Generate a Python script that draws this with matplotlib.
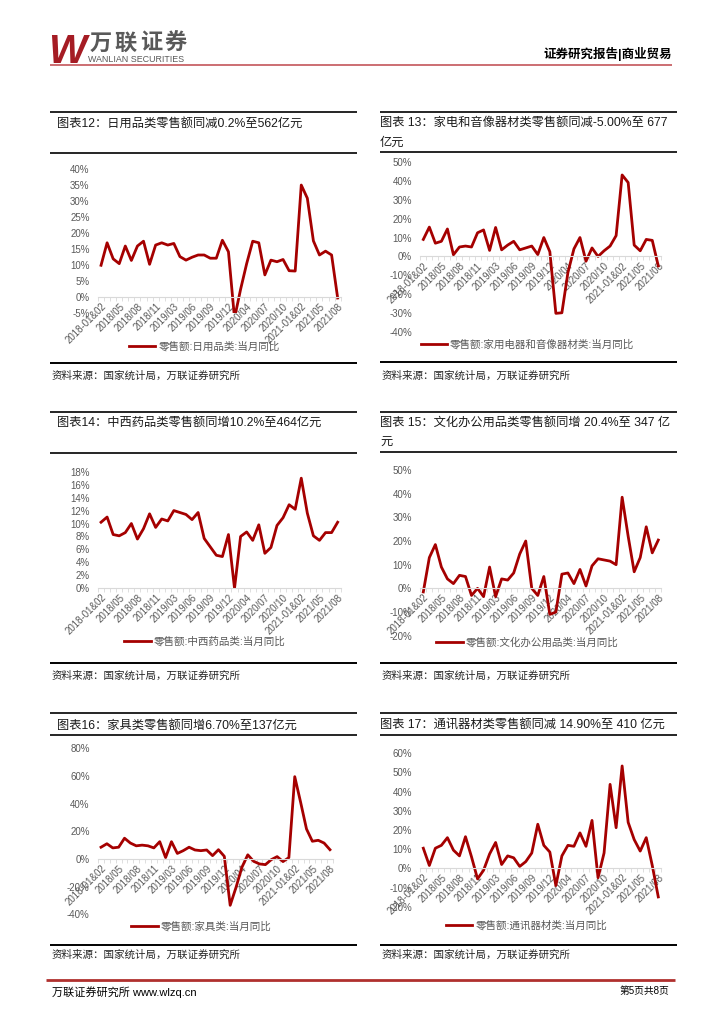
import matplotlib
matplotlib.use("Agg")
import matplotlib.pyplot as plt
import numpy as np
from matplotlib.lines import Line2D
from matplotlib.ticker import FuncFormatter

plt.rcParams['font.family'] = ['Liberation Sans', 'Noto Sans CJK SC', 'DejaVu Sans']

# ---- data (monthly yoy %, 2018-01&02 .. 2021/08) ----
CATEGORIES = []
for year, last in [(2018, 12), (2019, 12), (2020, 12), (2021, 8)]:
    CATEGORIES.append(f"{year}-01&02")
    CATEGORIES += [f"{year}/{m:02d}" for m in range(3, last + 1)]

daily_goods = [10, 17, 12, 10.5, 16, 11.5, 16, 17.5, 10.3, 16.3, 17, 16.3, 16.8, 12.7, 11.6, 12.5, 13.2,
               13.2, 12.2, 12.2, 17.8, 14.2, -6.5, 2.5, 10.5, 17.5, 17, 7, 11.6, 11.1, 11.8, 8.3, 8.2,
               35, 30.9, 17.6, 13.2, 14.4, 13.2, -0.2]
appliances = [9, 15.5, 7, 8, 14.5, 0.9, 5, 5.5, 5, 12.5, 14, 3.2, 15.3, 3.5, 6, 8, 3.5, 4.5, 5.5, 1,
              10, 2.5, -30, -29.7, -8.5, 4, 10, -2.5, 4.5, 0, 3, 5.5, 11, 43, 39, 6, 3, 9, 8.5, -5]
medicine = [10.2, 11, 8.3, 8.1, 8.6, 10, 7.6, 9.2, 11.5, 9.4, 10.7, 10.4, 12, 11.7, 11.4, 10.6, 11.7,
            7.7, 6.4, 5.1, 4.9, 8.3, 0, 8, 8.7, 7.4, 9.8, 5.4, 6.3, 9.7, 10.9, 12.9, 12.2, 17, 11.6,
            8.1, 7.4, 8.6, 8.6, 10.2]
office = [-1.5, 13, 18.5, 9, 4, 2, 5.5, 5, -3, 0, -3.5, 9, -3.5, 4, 3.5, 6.5, 14.5, 20, 0, -3, 5, -11,
          -10, 6, 6.5, 2, 8, 1, 9.5, 12.5, 12, 11.5, 10, 38.5, 22, 7, 13, 26, 15, 20.4]
furniture = [8.5, 11, 8, 8.5, 15, 11.5, 9.5, 10, 9.5, 8, 12.5, 1, 12.5, 4, 6, 8.5, 6.5, 6, 6.5, 2.4,
             6.7, 1.9, -33.5, -20.5, -6, 3, -1.7, -3.6, -4.1, -0.5, 1.7, -1.9, 1, 59.5, 41, 21.7,
             12.8, 13.5, 11.5, 6.7]
telecom = [10.5, 1.5, 10.5, 12, 16, 9.5, 6.5, 16.5, 6, -5.5, -1, 7.5, 13.5, 2, 6.5, 5.5, 1, 3.5, 8,
           23, 12, 8.5, -9, 6.5, 12, 11.5, 18.5, 11.5, 25, -4.9, 8, 43.8, 21.2, 53.4, 24, 15, 9, 16,
           1.5, -14.9]

RED = '#A50000'
GREY = '#595959'
W, H = 724, 1024


def fx(x):
    return x / W


def fy(y):
    return 1 - y / H


fig = plt.figure(figsize=(W / 100, H / 100), dpi=100)


def hline(y, x0, x1, lw=1.2, color='black'):
    fig.add_artist(Line2D([fx(x0), fx(x1)], [fy(y), fy(y)], transform=fig.transFigure,
                          lw=lw, color=color, solid_capstyle='butt'))


def chart(box, ylim, step, values, label, legend_xy):
    left, right, top, bottom = box
    ax = fig.add_axes([fx(left), fy(bottom), (right - left) / W, (bottom - top) / H])
    ax.patch.set_alpha(0)
    ax.plot(range(len(values)), values, color=RED, lw=2.0, solid_joinstyle='round', label=label)
    ax.set_xlim(-0.5, len(values) - 0.5)
    ax.set_ylim(*ylim)
    ax.set_yticks(np.arange(ylim[0], ylim[1] + step / 2, step))
    ax.yaxis.set_major_formatter(FuncFormatter(lambda v, p: f"{v:.0f}%"))
    for s in ['left', 'top', 'right']:
        ax.spines[s].set_visible(False)
    ax.spines['bottom'].set_position(('data', 0))
    ax.spines['bottom'].set_color('#D9D9D9')
    ax.spines['bottom'].set_linewidth(0.8)
    idx = list(range(0, len(values), 3))
    ax.set_xticks(idx)
    ax.set_xticklabels([CATEGORIES[i] for i in idx], rotation=45, ha='right', va='top',
                       rotation_mode='anchor')
    ax.set_xticks(np.arange(-0.5, len(values), 1), minor=True)
    ax.tick_params(axis='x', which='major', length=0, pad=3, labelsize=7, labelcolor=GREY)
    ax.tick_params(axis='x', which='minor', length=3, width=0.6, color='#D9D9D9')
    ax.tick_params(axis='y', length=0, pad=6, labelsize=7, labelcolor=GREY)
    ax.legend(loc='center', bbox_to_anchor=(fx(legend_xy[0]), fy(legend_xy[1])),
              bbox_transform=fig.transFigure, frameon=False, fontsize=7.6, labelcolor=GREY,
              handlelength=2.5, handletextpad=0.3, borderpad=0)
    return ax


def panel(x0, x1, top, sep, bottom, title_lines, title_x, title_ys, source_y):
    hline(top, x0, x1, 1.2)
    hline(sep, x0, x1, 1.2)
    hline(bottom, x0, x1, 1.4)
    for t, ty in zip(title_lines, title_ys):
        fig.text(fx(title_x), fy(ty), t, fontsize=8.8, color='#1a1a1a', va='center', ha='left')
    fig.text(fx(x0 + 2), fy(source_y), "资料来源：国家统计局，万联证券研究所", fontsize=7.6,
             color='#262626', va='center', ha='left')


# ---- header ----
fig.text(fx(48), fy(63), "W", fontsize=29, fontweight='bold', style='italic', color='#A51C24',
         va='baseline', ha='left', family='Liberation Sans')
for i, ch in enumerate("万联证券"):
    fig.text(fx(101 + 25 * i), fy(44), ch, fontsize=16, fontweight='bold', color=GREY,
             va='center', ha='center')
fig.text(fx(88), fy(59), "WANLIAN SECURITIES", fontsize=6.4, color=GREY, va='center', ha='left')
fig.text(fx(672), fy(54), "证券研究报告|商业贸易", fontsize=9, fontweight='bold', color='black',
         va='center', ha='right')
hline(65, 50, 672, 1.2, '#C4555A')

# ---- panels ----
panel(50, 357, 111.7, 152.7, 362.7, ["图表12：日用品类零售额同减0.2%至562亿元"], 56.7, [124.3], 376)
chart((98.0, 340.7, 169.0, 313.4), (-5, 40), 5, daily_goods, "零售额:日用品类:当月同比", (204.5, 346))

panel(380, 677, 111.7, 151.7, 362.3, ["图表 13：家电和音像器材类零售额同减-5.00%至 677", "亿元"],
      380, [123.3, 142.7], 376)
chart((420.3, 661.3, 161.7, 332.3), (-40, 50), 10, appliances,
      "零售额:家用电器和音像器材类:当月同比", (527.5, 344.3))

panel(50, 357, 411.7, 452.7, 663.3, ["图表14：中西药品类零售额同增10.2%至464亿元"], 56.7, [423.3], 676)
chart((98.0, 340.7, 471.7, 588.3), (0, 18), 2, medicine, "零售额:中西药品类:当月同比", (205, 641))

panel(380, 677, 411.7, 451.7, 663.3, ["图表 15：文化办公用品类零售额同增 20.4%至 347 亿", "元"],
      380, [422.3, 441.7], 676)
chart((420.3, 661.3, 470.0, 635.7), (-20, 50), 10, office,
      "零售额:文化办公用品类:当月同比", (527.5, 642.3))

panel(50, 357, 713.3, 735, 945, ["图表16：家具类零售额同增6.70%至137亿元"], 56.7, [725.7], 955)
chart((98.1, 332.9, 748.3, 914.3), (-40, 80), 20, furniture, "零售额:家具类:当月同比", (201.5, 926.7))

panel(380, 677, 713.3, 735, 945, ["图表 17：通讯器材类零售额同减 14.90%至 410 亿元"], 380, [725.7], 955)
chart((420.3, 661.3, 753.3, 906.7), (-20, 60), 10, telecom, "零售额:通讯器材类:当月同比",
      (526.5, 925.7))

# ---- footer ----
hline(980, 46, 675, 2.0, '#B0302E')
fig.text(fx(52), fy(992), "万联证券研究所 www.wlzq.cn", fontsize=8, color='black', va='center', ha='left')
fig.text(fx(669), fy(991), "第5页共8页", fontsize=7, color='black', va='center', ha='right')

fig.savefig("out.png", dpi=100)
